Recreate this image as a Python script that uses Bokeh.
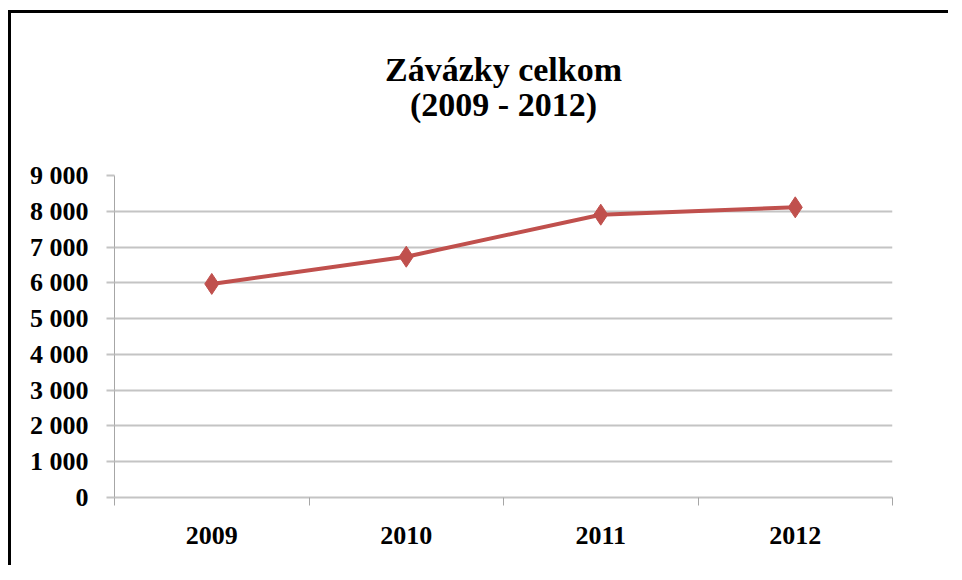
from bokeh.plotting import figure
from bokeh.models import FixedTicker, Range1d, Title, ColumnDataSource
from bokeh.embed import file_html
from bokeh.resources import INLINE

years = ["2009", "2010", "2011", "2012"]
values = [5970, 6730, 7905, 8110]
y_ticks = [0, 1000, 2000, 3000, 4000, 5000, 6000, 7000, 8000, 9000]
y_tick_labels = ["0", "1 000", "2 000", "3 000", "4 000", "5 000", "6 000", "7 000", "8 000", "9 000"]
title_line1 = "Závázky celkom"
title_line2 = "(2009 - 2012)"

xs = [i + 0.5 for i in range(len(years))]
src = ColumnDataSource(dict(x=xs, y=values, year=years))

FONT = "Liberation Serif"
GRID = "#c4c4c4"

p = figure(width=940, height=555, output_backend="svg", toolbar_location=None,
           x_range=Range1d(0, len(years)), y_range=Range1d(0, 9000),
           title_location=None, min_border_left=103, min_border_right=59,
           min_border_top=162, min_border_bottom=71)
p.styles = {"border-top": "3px solid black", "border-left": "3px solid black"}
p.margin = (10, 0, 0, 8)
p.outline_line_color = None
p.background_fill_color = "white"
p.border_fill_color = "white"

t2 = Title(text=title_line2, align="center", text_font=FONT, text_font_size="34px",
           text_font_style="bold", text_color="black", standoff=106)
t1 = Title(text=title_line1, align="center", text_font=FONT, text_font_size="34px",
           text_font_style="bold", text_color="black", standoff=-114)
p.add_layout(t2, "above")
p.add_layout(t1, "above")

# y axis
p.yaxis.ticker = FixedTicker(ticks=y_ticks)
p.yaxis.major_label_overrides = {t: l for t, l in zip(y_ticks, y_tick_labels)}
p.yaxis.axis_line_color = "#a6a6a6"
p.yaxis.major_tick_line_color = GRID
p.yaxis.major_tick_line_width = 2
p.yaxis.major_tick_out = 8
p.yaxis.major_tick_in = 0
p.yaxis.minor_tick_line_color = None
p.yaxis.major_label_standoff = 18
p.yaxis.major_label_text_font = FONT
p.yaxis.major_label_text_font_style = "bold"
p.yaxis.major_label_text_font_size = "26px"
p.yaxis.major_label_text_color = "black"

# x axis: labels at category centres, tick marks at category boundaries
p.xaxis.ticker = FixedTicker(ticks=xs, minor_ticks=list(range(len(years) + 1)))
p.xaxis.major_label_overrides = {x: y for x, y in zip(xs, years)}
p.xaxis.axis_line_color = GRID
p.xaxis.axis_line_width = 2
p.xaxis.major_tick_line_color = None
p.xaxis.minor_tick_line_color = "#a6a6a6"
p.xaxis.minor_tick_out = 8
p.xaxis.minor_tick_in = 0
p.xaxis.major_label_standoff = 21
p.xaxis.major_label_text_font = FONT
p.xaxis.major_label_text_font_style = "bold"
p.xaxis.major_label_text_font_size = "26px"
p.xaxis.major_label_text_color = "black"

p.xgrid.visible = False
p.ygrid.ticker = FixedTicker(ticks=y_ticks)
p.ygrid.grid_line_color = GRID
p.ygrid.grid_line_width = 2

p.line("x", "y", source=src, line_color="#C0504D", line_width=4)
p.scatter("x", "y", source=src, marker="diamond", size=21,
          fill_color="#C0504D", line_color="#C0504D")

open("out.html", "w").write(file_html(p, INLINE))
